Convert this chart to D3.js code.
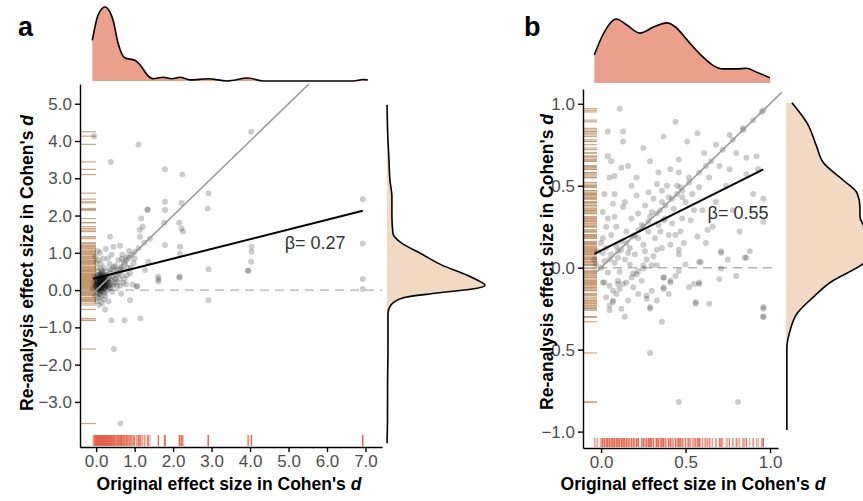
<!DOCTYPE html>
<html lang="en">
<head>
  <meta charset="UTF-8">
  <title>Original vs re-analysis effect sizes</title>
  <script src="https://d3js.org/d3.v7.min.js"></script>
  <style>
    body { margin: 0; background: #fff; }
    text { font-family: "Liberation Sans", Arial, sans-serif; }
    .axis path, .axis line { fill: none; stroke: #000; stroke-width: 1.4px; }
    .axis text { font-size: 17px; fill: #4d4d4d; }
    .title { font-size: 17.5px; font-weight: bold; fill: #000; }
    .letter { font-size: 27px; font-weight: bold; }
    .beta { font-size: 18px; fill: #333; }
    .dens { stroke: #000; stroke-width: 1.6px; fill: none; }
  </style>
</head>
<body>
  <svg width="863" height="501"></svg>
  <script>
    // ---- data ----
    // panel a: [original d, re-analysis d]
    var pointsA = [
      [-0.05,4.13],[1.10,3.91],[0.38,3.44],[4.03,4.25],[1.79,3.24],[2.24,3.10],[2.92,2.60],[2.90,2.19],
      [6.93,2.44],[6.93,1.25],[6.93,0.30],[6.93,0.03],[1.33,2.15],[1.34,2.16],[1.79,2.37],[1.79,2.15],
      [1.77,1.81],[2.22,2.34],[2.16,1.81],[2.22,1.65],[1.17,1.92],[1.21,1.70],[1.14,1.43],[1.79,1.21],
      [2.18,1.16],[2.18,0.98],[2.92,0.56],[2.16,0.34],[1.62,0.29],[1.62,0.23],[4.04,1.16],[4.04,1.03],
      [4.03,0.76],[3.94,0.52],[3.96,0.52],[2.92,-0.27],[0.88,-0.27],[0.23,-0.52],[1.06,0.11],[1.06,0.09],
      [0.36,1.43],[0.62,1.19],[0.45,1.16],[0.67,0.84],[0.80,0.89],[0.97,0.72],[0.88,0.45],[1.27,0.54],
      [1.36,0.76],[1.13,1.61],[2.26,1.57],[1.61,0.36],[2.17,0.36],[0.40,-0.81],[0.74,-0.81],[1.15,-0.76],
      [0.46,-1.58],[0.63,-3.58],
      [0.55,0.55],[0.65,0.62],[0.72,0.75],[0.78,0.80],[0.85,0.86],[0.92,0.95],[1.00,1.02],[1.10,1.12],
      [1.25,1.27],[1.40,1.38],
      [0.00,0.10],[0.02,0.25],[0.05,0.00],[0.05,0.40],[0.08,0.15],[0.08,-0.10],[0.10,0.30],[0.10,0.05],
      [0.12,0.20],[0.12,-0.20],[0.14,0.45],[0.15,0.10],[0.15,0.00],[0.17,0.30],[0.18,-0.05],[0.20,0.20],
      [0.20,0.60],[0.22,0.05],[0.22,0.35],[0.24,-0.15],[0.25,0.15],[0.26,0.50],[0.28,0.25],[0.28,0.00],
      [0.30,0.40],[0.30,0.10],[0.32,-0.30],[0.33,0.20],[0.35,0.70],[0.35,0.30],[0.36,0.05],[0.38,0.45],
      [0.40,0.15],[0.42,0.55],[0.42,-0.05],[0.45,0.35],[0.48,0.20],[0.50,0.65],[0.52,0.40],[0.55,0.10],
      [0.58,0.80],[0.60,0.30],[0.62,0.55],[0.65,-0.10],[0.68,0.95],[0.70,0.20],[0.75,0.70],[0.80,0.40],
      [0.85,1.05],[0.90,0.60],[0.95,0.15],[1.00,0.85],[-0.05,0.20],[-0.08,0.05],[-0.03,-0.15],[0.03,0.60],
      [0.06,0.80],[0.10,1.00],[0.12,0.70],[0.02,-0.30],[0.18,0.85],[0.25,1.10],[0.15,-0.35],[0.06,0.15],
      [0.09,0.22],[0.11,0.12],[0.13,0.28],[0.16,0.18],[0.19,0.08],[0.21,0.27],[0.04,0.05],[0.07,0.33],
      [0.14,-0.02],[0.17,0.38],[0.23,0.12],[0.27,0.33],[0.31,0.22],[0.34,0.13],[0.01,0.18],[0.09,-0.05],
      [0.02,0.12],[0.04,0.22],[0.06,0.30],[0.08,0.08],[0.10,0.18],[0.12,0.35],[0.14,0.12],[0.16,0.25],
      [0.18,0.15],[0.20,0.32],[0.22,0.22],[0.24,0.08],[0.26,0.28],[0.28,0.15],[0.30,0.30],[0.05,0.18],
      [0.07,0.02],[0.09,0.40],[0.11,0.26],[0.13,0.05],[0.15,0.33],[0.17,0.20],[0.19,0.42],[0.21,0.14],
      [0.23,0.30],[0.03,0.32],[0.01,0.02],[0.00,0.28],[-0.02,0.12],[-0.04,0.35],[0.04,-0.08],[0.06,0.50],
      [0.10,-0.12],[0.16,0.50],[0.22,-0.08],[0.26,0.40],[0.32,0.05],[0.36,0.55],[0.40,0.28],[0.44,0.12],
      [0.46,0.62],[0.50,0.30],[0.54,0.22],[0.58,0.45],[0.62,0.12],[0.66,0.40],[0.70,0.55],[0.74,0.30],
      [0.78,0.15],[0.82,0.60],[0.12,0.42],[0.08,0.27],[0.14,0.19],[0.18,0.33],[0.11,0.07],[0.07,0.14],
      [0.20,0.05],[0.25,0.22],[0.03,0.40],[0.13,0.55],[0.00,0.75],[-0.02,0.90],[0.04,1.05],[0.08,-0.40],
      [0.20,-0.25],[0.30,0.85],[0.40,0.95],[0.05,-0.22]
    ];
    // panel b
    var pointsB = [
      [0.11,0.97],[0.04,0.83],[0.13,0.83],[0.13,0.77],[0.44,0.89],[0.25,0.73],[0.04,0.68],[0.12,0.61],
      [0.08,0.56],[0.29,0.65],[0.37,0.80],[0.51,0.77],[0.57,0.82],[0.61,0.70],[0.68,0.75],[0.76,0.81],
      [0.84,0.85],[0.96,0.96],[0.86,0.67],[0.92,0.68],[0.86,0.57],[0.96,0.42],[0.96,0.28],[0.85,0.06],
      [0.63,0.23],[0.71,0.10],[0.58,0.49],[0.46,0.66],[0.46,0.58],[0.41,0.60],[0.33,0.51],[0.36,0.47],
      [0.40,0.43],[0.47,0.49],[0.48,0.43],[0.28,0.46],[0.13,0.37],[0.07,0.39],[0.08,0.31],[0.01,0.34],
      [0.22,0.33],[0.29,0.31],[0.37,0.29],[0.42,0.27],[0.53,0.29],[0.57,0.19],[0.47,0.22],[0.46,0.11],
      [0.41,0.14],[0.25,0.14],[0.33,0.11],[0.36,0.12],[0.19,0.19],[0.16,0.09],[0.09,0.13],[0.01,0.18],
      [0.01,0.09],[0.25,0.015],[0.30,0.015],[0.19,-0.035],[0.11,-0.025],[0.10,-0.10],[0.02,-0.09],[0.13,-0.10],
      [0.37,-0.06],[0.41,-0.08],[0.37,-0.13],[0.59,0.035],[0.58,-0.10],[0.56,-0.22],[0.29,-0.25],[0.07,-0.20],
      [0.05,-0.26],[0.96,-0.25],[0.96,-0.30],[0.70,-0.07],
      [0.01,-0.09],[0.05,-0.11],[0.10,-0.08],[0.11,-0.13],[0.15,-0.09],[0.21,-0.04],[0.07,-0.21],[0.05,-0.23],
      [0.22,-0.16],[0.27,-0.17],[0.27,-0.19],[0.29,-0.24],[0.37,-0.06],[0.37,-0.12],[0.41,-0.09],[0.44,-0.05],
      [0.36,-0.33],[0.29,-0.52],[0.46,-0.82],[0.81,-0.82],[0.56,-0.21],[0.64,-0.22],[0.55,-0.10],[0.58,-0.09],
      [0.96,-0.24],[0.96,-0.30],[0.58,0.035],[0.71,0.09],[0.71,-0.005],[0.86,0.06],[0.46,0.08],[0.33,0.015],
      [0.25,-0.005],
      [-0.04,0.05],[-0.03,0.02],[-0.02,0.10],[0.00,0.00],[0.02,0.04],[0.03,0.12],[0.04,-0.03],[0.06,0.08],
      [0.06,0.20],[0.08,0.03],[0.09,0.25],[0.10,0.06],[0.12,0.16],[0.14,0.05],[0.15,0.22],[0.17,0.12],
      [0.18,0.30],[0.20,0.08],[0.22,0.18],[0.24,0.26],[0.26,0.10],[0.28,0.22],[0.30,0.34],[0.32,0.18],
      [0.34,0.26],[0.36,0.40],[0.38,0.30],[0.40,0.20],[0.43,0.36],[0.45,0.50],[0.48,0.30],[0.50,0.40],
      [0.52,0.55],[0.55,0.35],[0.02,0.45],[0.05,0.55],[0.03,-0.18],[0.07,-0.14],[0.12,-0.25],[0.16,-0.20],
      [0.19,-0.12],[0.24,-0.08],[0.30,-0.14],[0.33,-0.20],[0.40,-0.16],[0.46,-0.02],[0.50,0.02],[0.52,-0.12],
      [0.62,0.15],[0.66,0.25],[0.68,0.40],[0.74,0.50],[0.78,0.35],[0.82,0.22],[0.90,0.45],[0.93,0.60],
      [0.75,0.05],[0.80,-0.05],[0.88,0.10],[0.64,0.55],
      [0.05,0.05],[0.10,0.10],[0.15,0.15],[0.20,0.20],[0.25,0.25],[0.28,0.28],[0.33,0.33],[0.38,0.38],
      [0.42,0.42],[0.45,0.45],[0.48,0.47],[0.52,0.52],[0.58,0.58],[0.65,0.65],[0.72,0.72],[0.78,0.78],
      [0.84,0.84],[0.90,0.90],[0.95,0.95],[0.12,0.11],[0.22,0.23],[0.35,0.35],
      [0.03,0.25],[0.08,0.45],[0.14,0.40],[0.18,0.50],[0.21,0.44],[0.26,0.38],[0.31,0.42],[0.35,0.22],
      [0.39,0.50],[0.44,0.20],[0.49,0.15],[0.54,0.45],[0.60,0.35],[0.62,0.62],[0.70,0.62],[0.76,0.60],
      [0.80,0.70],[0.17,0.02],[0.22,-0.02],[0.27,0.05],[0.31,0.07],[0.09,-0.16],[0.14,-0.30],[0.18,-0.06],
      [0.04,0.30],[0.00,0.15],[0.06,0.65],[0.16,0.62],[0.21,0.55],[0.34,0.58]
    ];

    // marginal densities (relative height, peak = 1)
    var topDensA = [[-0.10,0.55],[0.05,0.89],[0.23,1.0],[0.36,0.93],[0.44,0.82],[0.57,0.51],[0.75,0.31],
      [1.01,0.28],[1.14,0.22],[1.35,0.07],[1.48,0.03],[1.74,0.05],[1.97,0.03],[2.18,0.05],[2.44,0.015],
      [2.91,0.03],[3.40,0.0],[3.95,0.04],[4.34,0.0],[6.68,0.0],[6.94,0.02],[7.06,0.015]];
    var sideDensA = [[-4.11,0],[-3.5,0.005],[-2.5,0.006],[-1.5,0.01],[-0.62,0.01],[-0.40,0.04],[-0.21,0.16],
      [-0.08,0.51],[0.05,0.92],[0.13,1.0],[0.27,0.92],[0.40,0.82],[0.67,0.56],[0.99,0.34],[1.26,0.15],
      [1.53,0.06],[2.01,0.05],[2.50,0.05],[2.95,0.03],[3.5,0.02],[4.0,0.01],[4.97,0]];
    var topDensB = [[-0.04,0.44],[0.01,0.75],[0.09,1.0],[0.15,0.91],[0.23,0.78],[0.31,0.875],[0.39,0.94],
      [0.44,0.875],[0.51,0.67],[0.59,0.44],[0.66,0.28],[0.72,0.22],[0.80,0.22],[0.86,0.23],[0.92,0.17],[1.00,0.08]];
    var sideDensB = [[-0.99,0.01],[-0.49,0.01],[-0.38,0.05],[-0.28,0.13],[-0.18,0.32],[-0.08,0.55],[0.0,0.835],
      [0.03,0.92],[0.14,1.0],[0.25,0.92],[0.31,0.87],[0.37,0.87],[0.456,0.835],[0.535,0.67],[0.64,0.44],
      [0.74,0.36],[0.88,0.25],[1.006,0.07]];

    // regression fits [intercept, slope] and slopes shown
    var fitA = [0.325, 0.26], betaA = "0.27";
    var fitB = [0.105, 0.515], betaB = "0.55";
    var xTicksA = [0, 1, 2, 3, 4, 5, 6, 7], yTicksA = [-3, -2, -1, 0, 1, 2, 3, 4, 5];
    var xTicksB = [0, 0.5, 1], yTicksB = [-1, -0.5, 0, 0.5, 1];

    var svg = d3.select("svg");

    function panel(o) {
      var g = svg.append("g");
      var x = d3.scaleLinear().domain(o.xDom).range([o.left, o.right]);
      var y = d3.scaleLinear().domain(o.yDom).range([o.bottom, o.top]);

      // top marginal density
      var ty = d3.scaleLinear().domain([0, 1]).range([o.topBase, o.topBase - o.topH]);
      g.append("path").datum(o.topDens)
        .attr("fill", "#eba08e")
        .attr("d", d3.area().curve(d3.curveMonotoneX)
          .x(function(d) { return x(d[0]); }).y0(o.topBase).y1(function(d) { return ty(d[1]); }));
      g.append("path").datum(o.topDens).attr("class", "dens")
        .attr("d", d3.line().curve(d3.curveMonotoneX)
          .x(function(d) { return x(d[0]); }).y(function(d) { return ty(d[1]); }));

      // right marginal density
      var sx = d3.scaleLinear().domain([0, 1]).range([o.sideBase, o.sideBase + o.sideW]);
      g.append("path").datum(o.sideDens)
        .attr("fill", "#f2d9c4")
        .attr("d", d3.area().curve(d3.curveMonotoneY)
          .y(function(d) { return y(d[0]); }).x0(o.sideBase).x1(function(d) { return sx(d[1]); }));
      g.append("path").datum(o.sideDens).attr("class", "dens")
        .attr("d", d3.line().curve(d3.curveMonotoneY)
          .y(function(d) { return y(d[0]); }).x(function(d) { return sx(d[1]); }));

      // rugs
      g.append("g").selectAll("line").data(o.points).enter().append("line")
        .attr("x1", o.left).attr("x2", o.left + o.rugY)
        .attr("y1", function(d) { return y(d[1]); }).attr("y2", function(d) { return y(d[1]); })
        .attr("stroke", "#c4966e").attr("stroke-opacity", 0.85).attr("stroke-width", 1.2);
      g.append("g").selectAll("line").data(o.points).enter().append("line")
        .attr("y1", o.bottom - 1).attr("y2", o.bottom - o.rugX)
        .attr("x1", function(d) { return x(d[0]); }).attr("x2", function(d) { return x(d[0]); })
        .attr("stroke", "#e2654b").attr("stroke-opacity", 0.7).attr("stroke-width", 1);

      // zero line
      g.append("line")
        .attr("x1", o.left).attr("x2", o.right).attr("y1", y(0)).attr("y2", y(0))
        .attr("stroke", "#b3b3b3").attr("stroke-width", 1.4).attr("stroke-dasharray", "9,6");

      // points
      g.append("g").selectAll("circle").data(o.points).enter().append("circle")
        .attr("cx", function(d) { return x(d[0]); })
        .attr("cy", function(d) { return y(d[1]); })
        .attr("r", o.r).attr("fill", "#000").attr("fill-opacity", 0.2);

      var xs = d3.extent(o.points, function(d) { return d[0]; });
      // identity line
      var idEnd = Math.min(o.idEnd, o.yDom[1]);
      g.append("line")
        .attr("x1", x(xs[0])).attr("y1", y(xs[0]))
        .attr("x2", x(idEnd)).attr("y2", y(idEnd))
        .attr("stroke", "#999").attr("stroke-width", 1.6);
      // regression line
      g.append("line")
        .attr("x1", x(xs[0])).attr("y1", y(o.fit[0] + o.fit[1] * xs[0]))
        .attr("x2", x(xs[1])).attr("y2", y(o.fit[0] + o.fit[1] * xs[1]))
        .attr("stroke", "#000").attr("stroke-width", 2);
      g.append("text").attr("class", "beta")
        .attr("x", x(o.betaAt[0])).attr("y", y(o.betaAt[1]))
        .text("β= " + o.beta);

      // axes
      g.append("g").attr("class", "axis")
        .attr("transform", "translate(" + o.left + ",0)")
        .call(d3.axisLeft(y).tickValues(o.yTicks).tickFormat(d3.format(".1f"))
          .tickSize(5).tickSizeOuter(0).tickPadding(3));
      g.append("g").attr("class", "axis")
        .attr("transform", "translate(0," + o.bottom + ")")
        .call(d3.axisBottom(x).tickValues(o.xTicks).tickFormat(d3.format(".1f"))
          .tickSize(5).tickSizeOuter(0).tickPadding(3));

      // titles
      var xt = g.append("text").attr("class", "title").attr("text-anchor", "middle")
        .attr("x", o.xTitleX).attr("y", 490);
      xt.append("tspan").text("Original effect size in Cohen's ");
      xt.append("tspan").attr("font-style", "italic").text("d");
      var yt = g.append("text").attr("class", "title").attr("text-anchor", "middle")
        .attr("transform", "translate(" + o.yTitleX + "," + o.yTitleY + ") rotate(-90)");
      yt.append("tspan").text("Re-analysis effect size in Cohen's ");
      yt.append("tspan").attr("font-style", "italic").text("d");

      g.append("text").attr("class", "letter").attr("x", o.letterX).attr("y", 36).text(o.letter);
    }

    panel({
      letter: "a", letterX: 18,
      points: pointsA, topDens: topDensA, sideDens: sideDensA, fit: fitA, beta: betaA,
      xTicks: xTicksA, yTicks: yTicksA,
      xDom: [-0.42, 7.43], yDom: [-4.21, 5.53],
      left: 80, right: 382, top: 84, bottom: 447,
      topBase: 81, topH: 74, sideBase: 387, sideW: 98,
      rugX: 12, rugY: 16, r: 3, idEnd: 10, betaAt: [4.9, 1.10],
      xTitleX: 229, yTitleX: 33, yTitleY: 263
    });
    panel({
      letter: "b", letterX: 524,
      points: pointsB, topDens: topDensB, sideDens: sideDensB, fit: fitB, beta: betaB,
      xTicks: xTicksB, yTicks: yTicksB,
      xDom: [-0.107, 1.047], yDom: [-1.10, 1.09],
      left: 583, right: 778, top: 89, bottom: 448,
      topBase: 83, topH: 64, sideBase: 786, sideW: 85,
      rugX: 10, rugY: 14, r: 3, idEnd: 1.07, betaAt: [0.63, 0.30],
      xTitleX: 693, yTitleX: 553, yTitleY: 262
    });
  </script>
</body>
</html>
